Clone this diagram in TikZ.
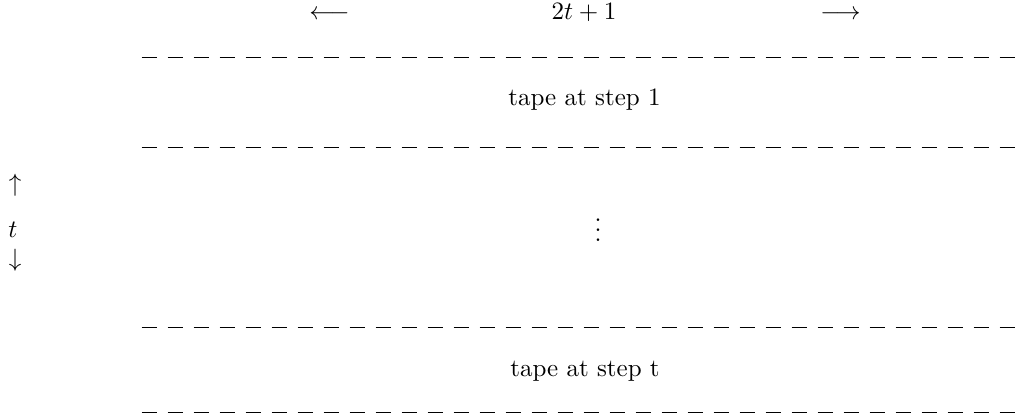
\documentclass[tikz,border=0pt]{standalone}
\usepackage{amsmath}
\begin{document}
\begin{tikzpicture}[x=0.4pt,y=-0.4pt,
  tapeline/.style={line width=0.4pt,dash pattern=on 6.24pt off 4.16pt},
  lbl/.style={inner sep=0pt,anchor=base}]
\useasboundingbox (0,0) rectangle (1023,420);
% top label
\node[lbl] (width) at (584,20) {$2t+1$};
\node[lbl] (la) at (329.5,20) {$\longleftarrow$};
\node[lbl] (ra) at (840.5,20) {$\longrightarrow$};
% dashed tape boundaries
\coordinate (l1a) at (141.7,57);  \coordinate (l1b) at (1023,57);
\coordinate (l2a) at (141.7,147); \coordinate (l2b) at (1023,147);
\coordinate (l3a) at (141.7,327); \coordinate (l3b) at (1023,327);
\coordinate (l4a) at (141.7,412); \coordinate (l4b) at (1023,412);
\draw[tapeline] (l1a) -- (l1b);
\draw[tapeline] (l2a) -- (l2b);
\draw[tapeline] (l3a) -- (l3b);
\draw[tapeline] (l4a) -- (l4b);
% tape labels
\node[lbl] (tape1) at (584.5,106) {tape at step 1};
\node[lbl] (tapet) at (585,376) {tape at step t};
\node[lbl] (dots) at (598,241) {$\vdots$};
% left height label
\node[inner sep=0pt] (ua) at (15,185) {$\uparrow$};
\node[lbl] (tt) at (13,238) {$t$};
\node[inner sep=0pt] (da) at (15,260) {$\downarrow$};
\end{tikzpicture}
\end{document}
